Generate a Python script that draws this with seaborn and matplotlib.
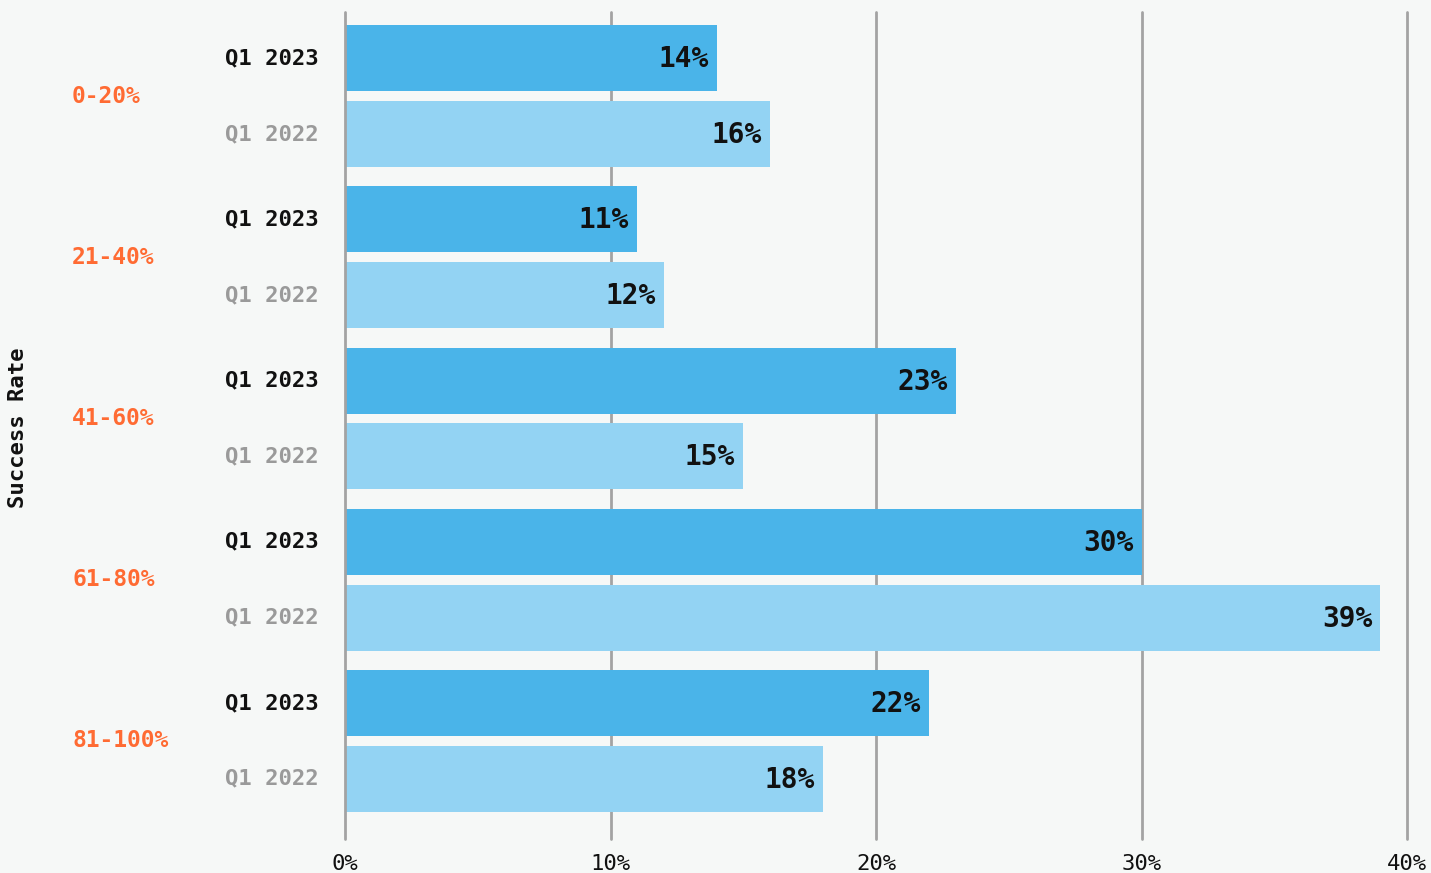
import matplotlib
matplotlib.use("Agg")
import matplotlib.pyplot as plt
import matplotlib.transforms as mtransforms
import seaborn as sns
import pandas as pd

# Share of respondents per success-rate bucket, two survey periods
buckets = ["0-20%", "21-40%", "41-60%", "61-80%", "81-100%"]
quarters = ["Q1 2023", "Q1 2022"]
q1_2023 = [14, 11, 23, 30, 22]
q1_2022 = [16, 12, 15, 39, 18]
x_ticks = [0, 10, 20, 30, 40]
x_tick_labels = ["0%", "10%", "20%", "30%", "40%"]

df = pd.DataFrame({
    "bucket": buckets * 2,
    "quarter": [quarters[0]] * len(buckets) + [quarters[1]] * len(buckets),
    "share": q1_2023 + q1_2022,
})

BG = "#F6F8F7"
BAR_COLORS = {"Q1 2023": "#4AB4E9", "Q1 2022": "#93D3F3"}
QUARTER_COLORS = {"Q1 2023": "#111111", "Q1 2022": "#9A9A9A"}
ORANGE = "#FF6B33"
GRID = "#A3A3A3"

sns.set_theme(style="white")
plt.rcParams["font.family"] = ["DejaVu Sans Mono", "DejaVu Sans"]

W, H = 1431, 873
fig = plt.figure(figsize=(W / 100, H / 100), dpi=100, facecolor=BG)
ax = fig.add_axes([345 / W, (H - 839) / H, (1407 - 345) / W, (839 - 12) / H])
ax.set_facecolor(BG)

sns.barplot(
    data=df, y="bucket", x="share", hue="quarter",
    order=buckets, hue_order=quarters, palette=BAR_COLORS,
    orient="h", dodge=True, width=0.94, gap=0.13,
    saturation=1, legend=False, ax=ax, zorder=3, linewidth=0,
)

ax.set_xlim(0, 40)
ax.set_ylim(4.608, -0.521)
ax.set_xticks(x_ticks)
ax.set_xticklabels(x_tick_labels, fontsize=16, color="#111111")
ax.tick_params(axis="x", length=0, pad=11)
ax.set_yticks([])
ax.set_xlabel("")
ax.set_ylabel("")
for s in ax.spines.values():
    s.set_visible(False)
for xv in x_ticks:
    # the zero line stays visible along the bar bases
    ax.axvline(xv, color=GRID, lw=2, zorder=4 if xv == 0 else 1, clip_on=False)

# value labels inside bar ends, quarter labels to the left of the axis
label_tr = mtransforms.blended_transform_factory(
    ax.transAxes, ax.transData) + mtransforms.ScaledTranslation(-26 / 100, 0, fig.dpi_scale_trans)
for quarter, container in zip(quarters, ax.containers):
    for bar in container:
        w = bar.get_width()
        yc = bar.get_y() + bar.get_height() / 2
        ax.annotate(f"{w:.0f}%", (w, yc), xytext=(-6, -0.8), textcoords="offset points",
                    ha="right", va="center", fontsize=20, fontweight="bold",
                    color="#111111", zorder=5)
        ax.text(0, yc, quarter, transform=label_tr, ha="right", va="center",
                fontsize=16, fontweight="bold", color=QUARTER_COLORS[quarter])

# bucket labels in the left margin
bucket_tr = mtransforms.blended_transform_factory(fig.transFigure, ax.transData)
for i, b in enumerate(buckets):
    ax.text(72 / W, i, b, transform=bucket_tr, ha="left", va="center",
            fontsize=16.5, fontweight="bold", color=ORANGE)

fig.text(18 / W, 1 - 428 / H, "Success Rate", rotation=90, ha="center", va="center",
         fontsize=16, fontweight="bold", color="#111111")

fig.savefig("out.png", dpi=100, facecolor=BG)
